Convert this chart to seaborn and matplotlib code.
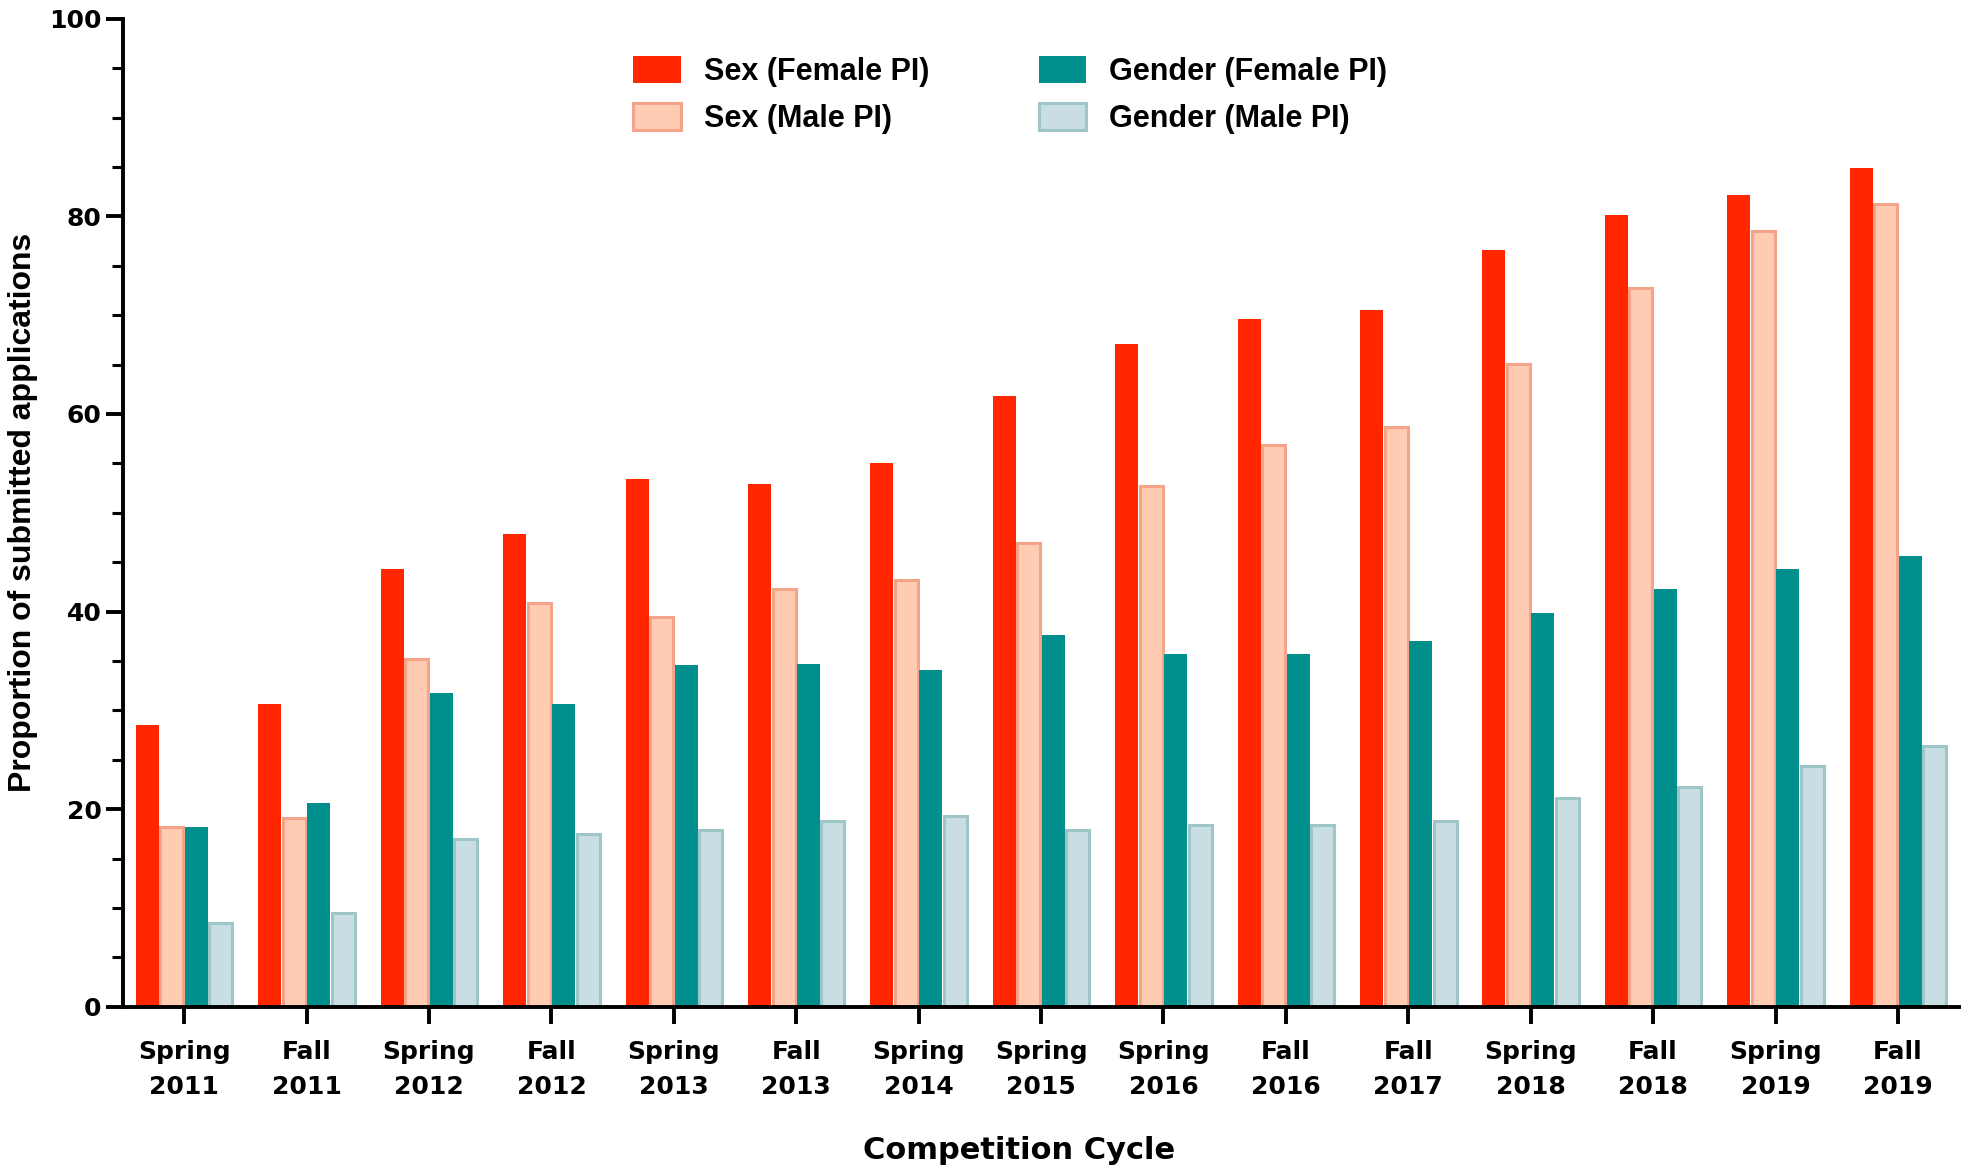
import matplotlib
matplotlib.use("Agg")
import matplotlib.pyplot as plt
import seaborn as sns
import pandas as pd
import numpy as np
from matplotlib.patches import Patch
from matplotlib.ticker import MultipleLocator

cycles = ["Spring\n2011", "Fall\n2011", "Spring\n2012", "Fall\n2012", "Spring\n2013",
          "Fall\n2013", "Spring\n2014", "Spring\n2015", "Spring\n2016", "Fall\n2016",
          "Fall\n2017", "Spring\n2018", "Fall\n2018", "Spring\n2019", "Fall\n2019"]
series_names = ["Sex (Female PI)", "Sex (Male PI)", "Gender (Female PI)", "Gender (Male PI)"]
sex_female = [28.5, 30.6, 44.3, 47.8, 53.4, 52.9, 55.0, 61.8, 67.1, 69.6, 70.5, 76.6, 80.1, 82.2, 84.9]
sex_male = [18.2, 19.1, 35.2, 40.9, 39.4, 42.3, 43.2, 46.9, 52.7, 56.9, 58.7, 65.1, 72.7, 78.5, 81.2]
gender_female = [18.2, 20.6, 31.8, 30.6, 34.6, 34.7, 34.1, 37.6, 35.7, 35.7, 37.0, 39.9, 42.3, 44.3, 45.6]
gender_male = [8.5, 9.5, 17.0, 17.5, 17.9, 18.8, 19.3, 17.9, 18.4, 18.4, 18.8, 21.1, 22.2, 24.4, 26.4]

fills = ["#FF2600", "#FFCCB3", "#008F8C", "#C8DEE2"]
edges = ["#FF2600", "#F4A488", "#008F8C", "#9EC6C8"]

rows = []
for name, vals in zip(series_names, [sex_female, sex_male, gender_female, gender_male]):
    for c, v in zip(cycles, vals):
        rows.append({"cycle": c, "series": name, "value": v})
df = pd.DataFrame(rows)

sns.set_style("ticks")
plt.rcParams['font.family'] = ['DejaVu Sans']
plt.rcParams['text.color'] = 'black'
plt.rcParams['axes.labelcolor'] = 'black'
plt.rcParams['xtick.color'] = 'black'
plt.rcParams['ytick.color'] = 'black'

fig = plt.figure(figsize=(19.68, 11.72), dpi=100)
ax = fig.add_axes([0.0625, 0.141, 0.933, 0.843])

sns.barplot(data=df, x="cycle", y="value", hue="series", hue_order=series_names,
            order=cycles, palette=fills, width=0.8, gap=0.06, ax=ax, legend=False,
            saturation=1)

for cont, ec, lw in zip(ax.containers, edges, [0, 2.2, 0, 2.2]):
    for p in cont.patches:
        p.set_edgecolor(ec)
        p.set_linewidth(lw)

ax.set_xlim(-0.5, 14.5)
ax.set_ylim(0, 100)
ax.yaxis.set_major_locator(MultipleLocator(20))
ax.yaxis.set_minor_locator(MultipleLocator(5))
for s in ["top", "right"]:
    ax.spines[s].set_visible(False)
for s in ["left", "bottom"]:
    ax.spines[s].set_linewidth(2.8)
    ax.spines[s].set_color("black")
ax.tick_params(axis="both", which="major", length=12, width=2.8, labelsize=18, direction="out")
ax.tick_params(axis="y", which="minor", length=8, width=2.2, direction="out")
for lab in ax.get_xticklabels():
    lab.set_fontweight("bold")
    lab.set_linespacing(1.55)
    lab.set_color("black")
for lab in ax.get_yticklabels():
    lab.set_fontweight("bold")
    lab.set_color("black")
ax.tick_params(axis="x", pad=12)

label_font = ['Liberation Sans', 'DejaVu Sans']
ax.set_xlabel("Competition Cycle", fontsize=22, fontweight="bold", color="black")
ax.xaxis.set_label_coords(0.488, -0.131)
ax.set_ylabel("Proportion of submitted applications", fontsize=23, fontweight="bold",
              family=label_font, labelpad=8, color="black")

handles = [Patch(facecolor=f, edgecolor=e, linewidth=lw) for f, e, lw in zip(fills, edges, [0, 2.2, 0, 2.2])]
leg = ax.legend(handles, series_names, ncol=2, loc="upper left", bbox_to_anchor=(0.263, 0.99),
                frameon=False, prop={"family": label_font, "size": 22, "weight": "bold"},
                handlelength=1.55, handleheight=1.0, columnspacing=3.6, labelspacing=0.5,
                handletextpad=0.75)
for t in leg.get_texts():
    t.set_color("black")

fig.savefig("out.png", dpi=100)
